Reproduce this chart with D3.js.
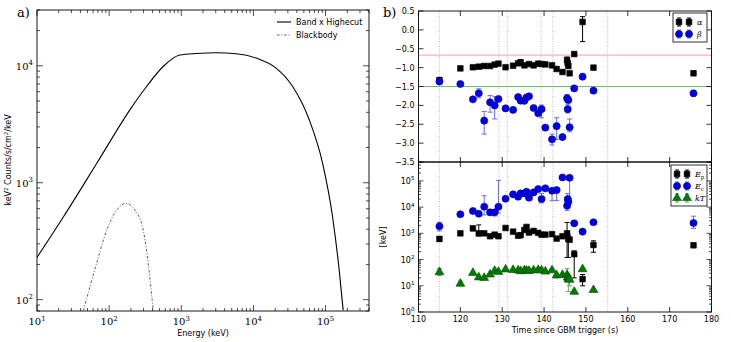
<!DOCTYPE html>
<head>
<meta charset="utf-8">
<style>
body { margin: 0; background: #fff; }
svg { display: block; }
.sans { font-family: "DejaVu Sans", sans-serif; }
.serif { font-family: "DejaVu Serif", serif; }
</style>
</head>
<body>
<svg width="731" height="342"></svg>
<script src="https://d3js.org/d3.v7.min.js"></script>
<script>
// ---- panel a) spectrum [E keV, keV^2 counts/s/cm^2/keV]
var bandCurve = [[10,230],[23.3,512],[67.4,1466],[194,4200],[330,6650],[561,9860],[953,12350],
  [1622,12740],[3060,12920],[5780,12670],[10940,11640],[20650,9560],[35000,6650],[59600,3440],
  [91000,1466],[125000,512],[154500,179],[175400,81]];
var bbCurve = [[44,81],[67,204],[92.7,394],[127,583],[170,665],[228,583],[297,394],[348,204],[408,81]];

// ---- panel b) time resolved parameters [t, value, low, high]
var vlines = [115, 129.2, 131.2, 139.3, 142.1, 155.2];
var alpha = [[115.0,-1.33,-1.40,-1.27],[120.0,-1.02],[123.0,-0.99],[124.4,-0.975],[125.7,-0.957],
  [127.1,-0.957],[128.2,-0.92],[129.1,-0.895],[130.8,-0.99],[132.6,-0.95],[133.8,-0.886],
  [134.4,-0.86,-0.93,-0.79],[135.3,-0.94],[136.4,-0.905],[137.5,-0.94],[138.6,-0.895],[139.4,-0.905],
  [140.3,-0.915],[141.9,-0.94],[143.0,-1.036],[144.4,-1.116],[145.5,-0.80,-0.90,-0.72],[145.65,-0.886],
  [145.8,-0.957],[146.1,-1.15],[147.2,-0.64],[149.2,0.21,-0.31,0.35],[151.8,-1.0],[175.7,-1.15,-1.21,-1.09]];
var beta = [[115.0,-1.37,-1.44,-1.30],[120.0,-1.434],[123.0,-1.84],[124.4,-1.68,-1.80,-1.56],
  [125.7,-2.405,-2.76,-2.16],[127.1,-1.92,-2.18,-1.74],[128.2,-2.0,-2.36,-1.77],[129.1,-1.83],
  [130.8,-2.08,-2.13,-2.03],[132.6,-2.12],[133.8,-1.78],[134.4,-1.876],[135.3,-1.88],[135.8,-1.79],
  [136.4,-1.76],[137.5,-2.07],[138.6,-2.21],[139.4,-2.1,-2.33,-1.99],[140.3,-2.59,-2.64,-2.54],
  [141.9,-2.9,-3.05,-2.76],[143.0,-2.55,-2.9,-2.33],[144.4,-2.84,-2.89,-2.79],[145.5,-1.81,-1.91,-1.71],
  [145.65,-2.1,-2.2,-1.97],[145.8,-1.86],[146.1,-2.58,-2.7,-2.36],[147.2,-1.55],[149.2,-1.24],
  [151.8,-1.61],[175.7,-1.68,-1.76,-1.61]];
var alphaRef = -0.67, betaRef = -1.5;
var Ep = [[115.0,612,500,720],[120.0,1000],[123.0,1550,1250,1800],[124.4,1000,800,2100],[125.7,1000],
  [127.1,775],[128.2,890],[129.1,775],[130.8,1600],[132.6,1160],[133.8,815],[134.4,850],[135.3,1340],
  [135.8,1750],[136.4,1070],[137.5,1230],[138.6,1040],[139.4,890],[140.3,890],[141.9,930],[143.0,630],
  [144.4,775],[145.5,1000,120,2600],[145.8,612,120,870],[146.1,570],[147.2,160,20,215],[149.2,18,10,27],
  [151.8,360,190,520],[175.7,350,300,420]];
var Ec = [[115.0,1860,1230,2650],[120.0,5320],[123.0,7100],[124.4,5600],[125.7,10350,5000,27000],
  [127.1,6300,5000,7800],[128.2,6300,4600,7600],[129.1,10350,6000,105000],[130.8,20900],[132.6,30700],
  [133.8,24900],[134.4,33200],[135.3,33200],[135.8,38400],[136.4,22800],[137.5,36400],[138.6,48700],
  [139.4,20400,14500,33000],[140.3,51800],[141.9,41900,17500,46000],[143.0,44500,18000,50000],
  [144.4,135000,115000,155000],[145.5,11300,7500,14000],[145.65,20400,14000,33000],[145.8,15900],
  [146.1,131000,21000,140000],[147.2,2400],[149.2,1160],[151.8,2640],[175.7,2480,1550,4500]];
var kT = [[115.0,33,25,45],[120.0,12,10,15],[123.0,31],[124.4,21],[125.7,20],[127.1,27],[128.2,37],
  [129.1,34],[130.8,42],[132.6,40],[133.8,39],[134.4,36,30,44],[135.3,39],[135.8,38],[136.4,37],
  [137.5,39],[138.6,40],[139.4,39],[140.3,35],[141.9,39],[143.0,25,20,30],[144.4,26],[145.5,26,15,45],
  [145.65,21],[145.8,18,6,30],[146.1,17,10,25],[147.2,5.9],[149.2,43],[151.8,6.9]];

var svg = d3.select("svg");

function logTicks(lo, hi) {
  var out = [];
  for (var k = Math.floor(Math.log10(lo)); k <= Math.ceil(Math.log10(hi)); k++)
    for (var m = 1; m < 10; m++) {
      var v = m * Math.pow(10, k);
      if (v >= lo * 0.999 && v <= hi * 1.001) out.push({v: v, major: m === 1, k: k});
    }
  return out;
}
function powLabel(sel, k, fs) {
  sel.append("tspan").text("10");
  sel.append("tspan").attr("dy", -fs * 0.45).style("font-size", (fs * 0.7) + "px").text(k);
}

// ================= panel a =================
var xa = d3.scaleLog().domain([10, 4e5]).range([37, 369]);
var ya = d3.scaleLog().domain([80, 3e4]).range([311, 10]);
var ga = svg.append("g");

logTicks(10, 4e5).forEach(function(t) {
  var L = t.major ? 6 : 3, px = xa(t.v);
  ga.append("line").attr("x1", px).attr("x2", px).attr("y1", 311).attr("y2", 311 - L).attr("stroke", "#000").attr("stroke-width", 0.7);
  ga.append("line").attr("x1", px).attr("x2", px).attr("y1", 10).attr("y2", 10 + L).attr("stroke", "#000").attr("stroke-width", 0.7);
  if (t.major) powLabel(ga.append("text").attr("class", "serif").attr("x", px).attr("y", 325).attr("text-anchor", "middle").style("font-size", "10px"), t.k, 10);
});
logTicks(80, 3e4).forEach(function(t) {
  var L = t.major ? 6 : 3, py = ya(t.v);
  ga.append("line").attr("x1", 37).attr("x2", 37 + L).attr("y1", py).attr("y2", py).attr("stroke", "#000").attr("stroke-width", 0.7);
  ga.append("line").attr("x1", 369).attr("x2", 369 - L).attr("y1", py).attr("y2", py).attr("stroke", "#000").attr("stroke-width", 0.7);
  if (t.major) powLabel(ga.append("text").attr("class", "serif").attr("x", 33).attr("y", py + 4).attr("text-anchor", "end").style("font-size", "10px"), t.k, 10);
});

var lineA = d3.line().x(function(d) { return xa(d[0]); }).y(function(d) { return ya(d[1]); }).curve(d3.curveMonotoneX);
ga.append("path").attr("d", lineA(bandCurve)).attr("fill", "none").attr("stroke", "#000").attr("stroke-width", 1.1);
ga.append("path").attr("d", lineA(bbCurve)).attr("fill", "none").attr("stroke", "#333").attr("stroke-width", 0.8).attr("stroke-dasharray", "2.5,1.8,1,1.8");
ga.append("rect").attr("x", 37).attr("y", 10).attr("width", 332).attr("height", 301).attr("fill", "none").attr("stroke", "#000").attr("stroke-width", 0.9);

// legend a
ga.append("line").attr("x1", 277).attr("x2", 291).attr("y1", 22).attr("y2", 22).attr("stroke", "#000").attr("stroke-width", 1.1);
ga.append("line").attr("x1", 277).attr("x2", 291).attr("y1", 35).attr("y2", 35).attr("stroke", "#333").attr("stroke-width", 0.8).attr("stroke-dasharray", "2.5,1.8,1,1.8");
ga.append("text").attr("class", "sans").attr("x", 296).attr("y", 25).style("font-size", "8px").text("Band x Highecut");
ga.append("text").attr("class", "sans").attr("x", 296).attr("y", 38).style("font-size", "8px").text("Blackbody");

ga.append("text").attr("class", "serif").attr("x", 17).attr("y", 17).style("font-size", "13px").text("a)");
ga.append("text").attr("class", "sans").attr("x", 203).attr("y", 336).attr("text-anchor", "middle").style("font-size", "8px").text("Energy (keV)");
var yl = ga.append("text").attr("class", "sans").attr("transform", "translate(11,160) rotate(-90)").attr("text-anchor", "middle").style("font-size", "8px");
yl.append("tspan").text("keV");
yl.append("tspan").attr("dy", -3).style("font-size", "5.5px").text("2");
yl.append("tspan").attr("dy", 3).text(" Counts/s/cm");
yl.append("tspan").attr("dy", -3).style("font-size", "5.5px").text("2");
yl.append("tspan").attr("dy", 3).text("/keV");

// ================= panel b =================
var X0 = 418.5, X1 = 711.5, T0 = 11, MID = 162, B1 = 312;
var xb = d3.scaleLinear().domain([110, 180]).range([X0, X1]);
var yt = d3.scaleLinear().domain([-3.5, 0.5]).range([MID, T0]);
var yb = d3.scaleLog().domain([1, Math.pow(10, 5.72)]).range([B1, MID]);
var gb = svg.append("g");
var blue = "#0000e6", blueBar = "#6b6bf0", green = "#007a00", greenBar = "#5fae5f";

// vertical dotted lines
vlines.forEach(function(t) {
  gb.append("line").attr("x1", xb(t)).attr("x2", xb(t)).attr("y1", T0).attr("y2", B1).attr("stroke", "#aaa").attr("stroke-width", 0.8).attr("stroke-dasharray", "1,1.5");
});
// reference lines
gb.append("line").attr("x1", X0).attr("x2", X1).attr("y1", yt(alphaRef)).attr("y2", yt(alphaRef)).attr("stroke", "#ffb0b0").attr("stroke-width", 1.3);
gb.append("line").attr("x1", X0).attr("x2", X1).attr("y1", yt(betaRef)).attr("y2", yt(betaRef)).attr("stroke", "#6cbf6c").attr("stroke-width", 1.1);

// x ticks
d3.range(110, 181, 10).forEach(function(t) {
  var px = xb(t);
  [[T0, 1], [MID, -1], [MID, 1], [B1, -1]].forEach(function(p) {
    gb.append("line").attr("x1", px).attr("x2", px).attr("y1", p[0]).attr("y2", p[0] + p[1] * 5).attr("stroke", "#000").attr("stroke-width", 0.8);
  });
  gb.append("text").attr("class", "sans").attr("x", px).attr("y", 322).attr("text-anchor", "middle").style("font-size", "8px").text(t);
});
// top y ticks
d3.range(-3.5, 0.51, 0.5).forEach(function(v) {
  var py = yt(v);
  gb.append("line").attr("x1", X0).attr("x2", X0 + 5).attr("y1", py).attr("y2", py).attr("stroke", "#000").attr("stroke-width", 0.8);
  gb.append("line").attr("x1", X1).attr("x2", X1 - 5).attr("y1", py).attr("y2", py).attr("stroke", "#000").attr("stroke-width", 0.8);
  gb.append("text").attr("class", "sans").attr("x", X0 - 4).attr("y", py + 3).attr("text-anchor", "end").style("font-size", "8px").text(d3.format(".1f")(v).replace("-", "\u2212"));
});
// bottom y ticks
logTicks(1, Math.pow(10, 5.72)).forEach(function(t) {
  var L = t.major ? 5 : 2.5, py = yb(t.v);
  gb.append("line").attr("x1", X0).attr("x2", X0 + L).attr("y1", py).attr("y2", py).attr("stroke", "#000").attr("stroke-width", 0.7);
  gb.append("line").attr("x1", X1).attr("x2", X1 - L).attr("y1", py).attr("y2", py).attr("stroke", "#000").attr("stroke-width", 0.7);
  if (t.major) powLabel(gb.append("text").attr("class", "sans").attr("x", X0 - 4).attr("y", py + 3).attr("text-anchor", "end").style("font-size", "8px"), t.k, 8);
});

function errBars(g, data, y, col) {
  data.filter(function(d) { return d.length > 2; }).forEach(function(d) {
    var px = xb(d[0]);
    g.append("line").attr("x1", px).attr("x2", px).attr("y1", y(d[2])).attr("y2", y(d[3])).attr("stroke", col).attr("stroke-width", 1);
    [d[2], d[3]].forEach(function(v) {
      g.append("line").attr("x1", px - 2.5).attr("x2", px + 2.5).attr("y1", y(v)).attr("y2", y(v)).attr("stroke", col).attr("stroke-width", 1);
    });
  });
}
var sq = d3.symbol().type(d3.symbolSquare).size(32);
var ci = d3.symbol().type(d3.symbolCircle).size(40);
var tri = d3.symbol().type(d3.symbolTriangle).size(34);
function marks(g, data, y, sym, fill, stroke) {
  g.selectAll(null).data(data).enter().append("path")
    .attr("d", sym)
    .attr("transform", function(d) { return "translate(" + xb(d[0]) + "," + y(d[1]) + ")"; })
    .attr("fill", fill).attr("stroke", stroke).attr("stroke-width", 0.6);
}
errBars(gb, alpha, yt, "#000");
marks(gb, alpha, yt, sq, "#000", "#000");
errBars(gb, beta, yt, blueBar);
marks(gb, beta, yt, ci, blue, "#00008b");

errBars(gb, Ep, yb, "#000");
marks(gb, Ep, yb, sq, "#000", "#000");
errBars(gb, Ec, yb, blueBar);
marks(gb, Ec, yb, ci, blue, "#00008b");
errBars(gb, kT, yb, greenBar);
marks(gb, kT, yb, tri, green, "#004d00");

gb.append("rect").attr("x", X0).attr("y", T0).attr("width", X1 - X0).attr("height", MID - T0).attr("fill", "none").attr("stroke", "#000").attr("stroke-width", 0.9);
gb.append("rect").attr("x", X0).attr("y", MID).attr("width", X1 - X0).attr("height", B1 - MID).attr("fill", "none").attr("stroke", "#000").attr("stroke-width", 0.9);

// legends b
function legendBox(g, x, y, w, rows) {
  g.append("rect").attr("x", x).attr("y", y).attr("width", w).attr("height", rows.length * 12 + 5).attr("fill", "#fff").attr("stroke", "#000").attr("stroke-width", 0.8);
  rows.forEach(function(r, i) {
    var cy = y + 9 + i * 12;
    [x + 6, x + 16].forEach(function(cx) {
      g.append("line").attr("x1", cx).attr("x2", cx).attr("y1", cy - 4).attr("y2", cy + 4).attr("stroke", r.bar).attr("stroke-width", 1);
      g.append("line").attr("x1", cx - 2).attr("x2", cx + 2).attr("y1", cy - 4).attr("y2", cy - 4).attr("stroke", r.bar).attr("stroke-width", 1);
      g.append("line").attr("x1", cx - 2).attr("x2", cx + 2).attr("y1", cy + 4).attr("y2", cy + 4).attr("stroke", r.bar).attr("stroke-width", 1);
      g.append("path").attr("d", r.sym).attr("transform", "translate(" + cx + "," + cy + ")").attr("fill", r.fill).attr("stroke", r.stroke).attr("stroke-width", 0.6);
    });
    var tx = g.append("text").attr("class", "serif").attr("x", x + 24).attr("y", cy + 3).style("font-size", "8px").style("font-style", "italic");
    tx.append("tspan").text(r.name);
    if (r.sub) tx.append("tspan").attr("dy", 2).style("font-size", "5.5px").style("font-style", "normal").text(r.sub);
  });
}
legendBox(gb, 673, 13, 34, [
  {name: "\u03b1", bar: "#000", sym: sq, fill: "#000", stroke: "#000"},
  {name: "\u03b2", bar: blueBar, sym: ci, fill: blue, stroke: "#00008b"}]);
legendBox(gb, 671, 165, 36, [
  {name: "E", sub: "p", bar: "#000", sym: sq, fill: "#000", stroke: "#000"},
  {name: "E", sub: "c", bar: blueBar, sym: ci, fill: blue, stroke: "#00008b"},
  {name: "kT", bar: greenBar, sym: tri, fill: green, stroke: "#004d00"}]);

gb.append("text").attr("class", "serif").attr("x", 383).attr("y", 17).style("font-size", "13px").text("b)");
gb.append("text").attr("class", "sans").attr("x", 565).attr("y", 333).attr("text-anchor", "middle").style("font-size", "8px").text("Time since GBM trigger (s)");
gb.append("text").attr("class", "sans").attr("transform", "translate(386,237) rotate(-90)").attr("text-anchor", "middle").style("font-size", "8px").text("[keV]");
</script>
</body>
